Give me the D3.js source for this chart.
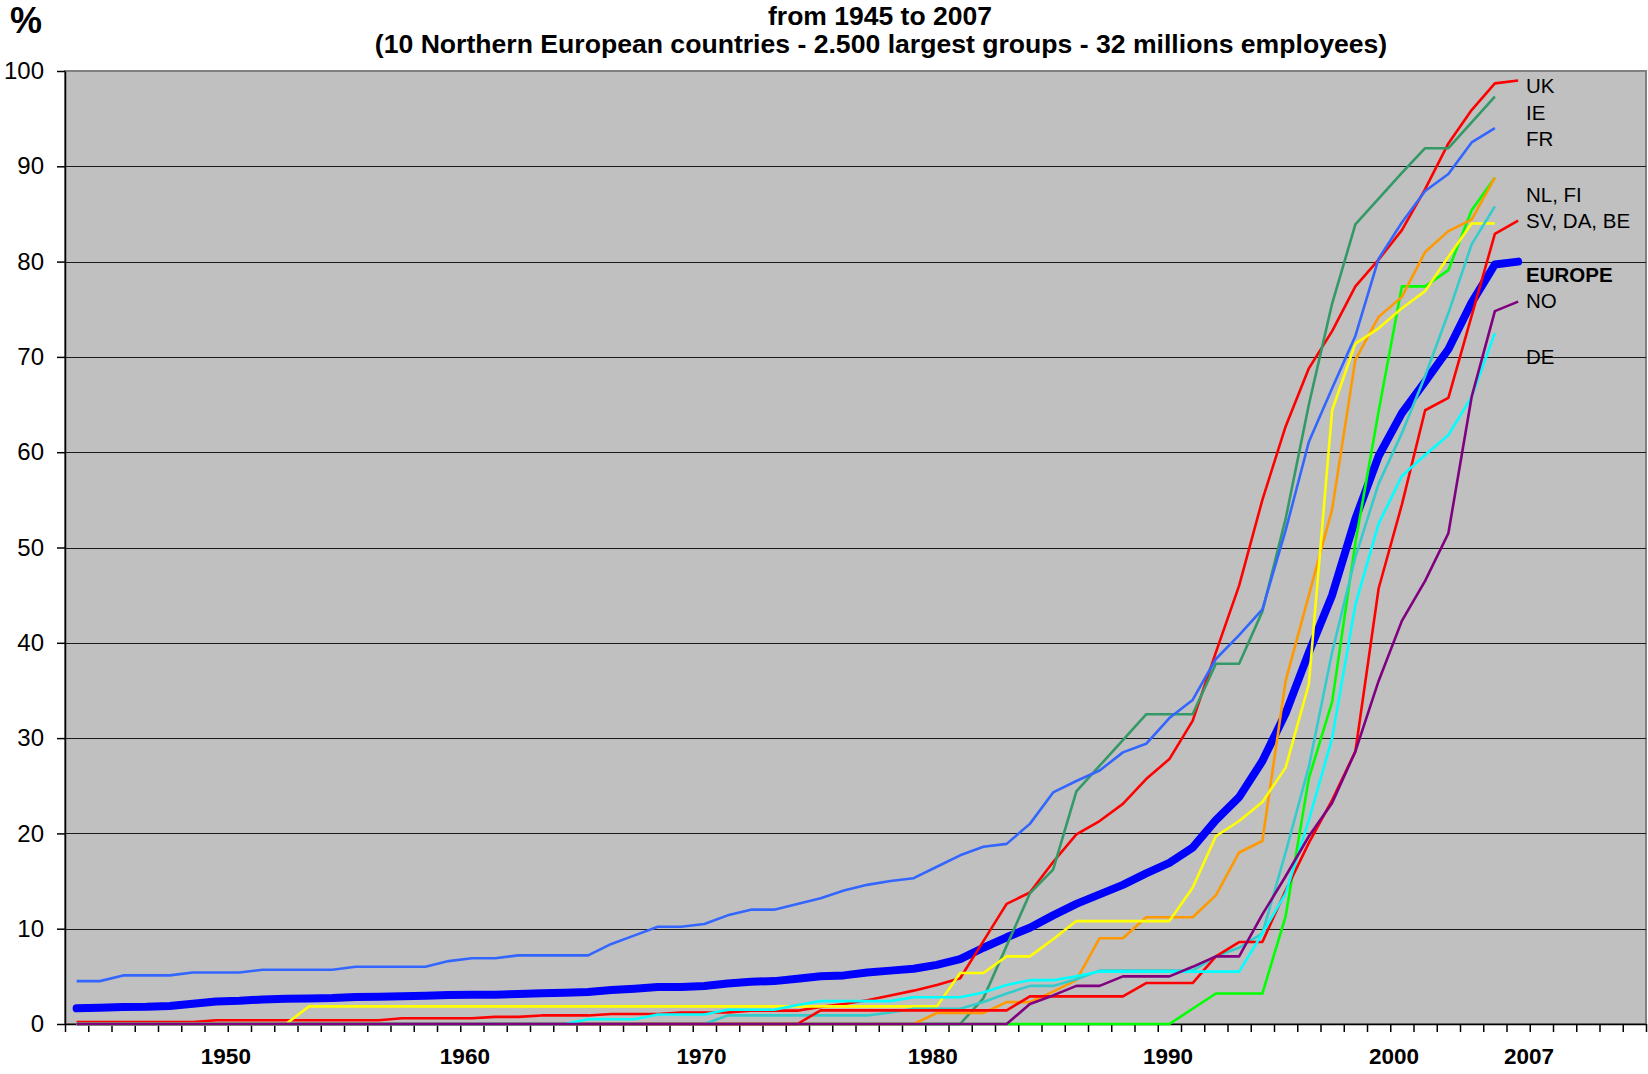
<!DOCTYPE html>
<html>
<head>
<meta charset="utf-8">
<script src="https://cdn.jsdelivr.net/npm/d3@7"></script>
<style>
body { margin: 0; background: #fff; }
svg { display: block; font-family: Arial, "Liberation Sans", sans-serif; }
</style>
</head>
<body>
<div id="chart"></div>
<script>
// one value per year, 1945 -> 2007 (some series stop in 2006)
var years = d3.range(1945, 2008);

var europe = [1.64,1.71,1.78,1.8,1.89,2.13,2.37,2.44,2.58,2.65,2.68,2.72,2.83,2.86,2.9,2.97,3.04,3.08,3.08,3.15,
    3.22,3.29,3.36,3.57,3.71,3.88,3.88,3.99,4.26,4.44,4.5,4.75,5.0,5.1,5.4,5.6,5.8,6.2,6.8,8.0,
    9.1,10.1,11.4,12.6,13.6,14.6,15.8,16.9,18.5,21.4,23.8,27.6,32.6,39,45,53,59.6,64.1,67.4,70.8,
    75.7,79.7,80.0];
var uk = [0.2,0.2,0.2,0.2,0.2,0.2,0.4,0.4,0.4,0.4,0.4,0.4,0.4,0.4,0.6,0.6,0.6,0.6,0.75,0.75,
    0.9,0.9,0.9,1.05,1.05,1.05,1.2,1.2,1.2,1.4,1.4,1.4,1.8,2.1,2.5,3.0,3.5,4.1,4.8,8.7,
    12.6,13.8,17.0,19.9,21.3,23.1,25.7,27.8,31.8,39.0,46.0,55.0,62.7,68.8,72.7,77.4,80.2,83.3,87.6,92.4,
    95.9,98.7,99.0];
var ie = [0,0,0,0,0,0,0,0,0,0,0,0,0,0,0,0,0,0,0,0,
    0,0,0,0,0,0,0,0,0,0,0,0,0,0,0,0,0,0,0,2.7,
    8.2,13.7,16.2,24.4,27.1,29.8,32.5,32.5,32.5,37.8,37.8,43.3,53,65,75.6,83.9,86.6,89.3,91.9,91.9,
    94.6,97.3];
var fr = [4.5,4.5,5.1,5.1,5.1,5.4,5.4,5.4,5.7,5.7,5.7,5.7,6.0,6.0,6.0,6.0,6.6,6.9,6.9,7.2,
    7.2,7.2,7.2,8.4,9.3,10.2,10.2,10.5,11.4,12.0,12.0,12.6,13.2,14.0,14.6,15.0,15.3,16.5,17.7,18.6,
    18.9,21.0,24.3,25.5,26.6,28.5,29.4,32.1,34.0,38.3,40.8,43.5,51.8,61.1,66.7,72.2,80.3,84.1,87.4,89.2,
    92.5,94.0];
var nl = [0,0,0,0,0,0,0,0,0,0,0,0,0,0,0,0,0,0,0,0,
    0,0,0,0,0,0,0,0,0,0,0,0,0,0,0,0,0,0,0,0,
    0,0,0,0,0,0,0,0,1.6,3.2,3.2,3.2,11.3,25.8,33.8,50.5,64.3,77.4,77.4,79.1,
    85.4,88.8];
var fi = [0,0,0,0,0,0,0,0,0,0,0,0,0,0,0,0,0,0,0,0,
    0,0,0,0,0,0,0,0,0,0,0,0,0,0,0,0,0,1.15,1.15,1.15,
    2.3,2.3,3.4,4.6,9.0,9.0,11.2,11.2,11.2,13.5,18.0,19.2,36,45,54,69.7,74.2,76.3,81.0,83.2,
    84.4,88.8];
var sv = [0,0,0,0,0,0,0,0,0,0,1.85,1.85,1.85,1.85,1.85,1.85,1.85,1.85,1.85,1.85,
    1.85,1.85,1.85,1.85,1.85,1.85,1.85,1.85,1.85,1.85,1.85,1.85,1.85,1.85,1.85,1.85,1.85,1.85,5.35,5.35,
    7.1,7.1,8.9,10.8,10.8,10.8,10.8,10.8,14.3,19.7,21.3,23.3,26.9,35.7,64.4,71.4,73.0,75.1,76.9,80.5,
    84.0,84.0];
var da = [0,0,0,0,0,0,0,0,0,0,0,0,0,0,0,0,0,0,0,0,
    0,0,0,0,0,0,0,0,0.9,0.9,0.9,0.9,0.9,0.9,0.9,1.2,1.6,1.6,1.6,2.3,
    3.2,4.0,4.0,4.7,5.6,5.6,5.6,5.6,5.6,7.1,8.0,9.5,18,27,39,49,56.7,62.0,68.0,74.6,
    81.8,85.8];
var be = [0,0,0,0,0,0,0,0,0,0,0,0,0,0,0,0,0,0,0,0,
    0,0,0,0,0,0,0,0,0,0,0,0,1.43,1.43,1.43,1.43,1.43,1.43,1.43,1.43,
    1.43,2.9,2.9,2.9,2.9,2.9,4.3,4.3,4.3,7.1,8.6,8.6,14,19,23.5,28.6,45.7,54.5,64.4,65.7,
    74.3,82.9,84.3];
var de = [0,0,0,0,0,0,0,0,0,0,0,0,0,0,0,0,0,0,0,0,
    0,0,0.5,0.5,0.5,1.0,1.0,1.0,1.5,1.5,1.5,2.0,2.4,2.4,2.4,2.4,2.8,2.8,2.8,3.3,
    4.1,4.6,4.6,5.0,5.5,5.5,5.5,5.5,5.5,5.5,5.5,9.5,13.7,21.4,30,44,52.5,57.5,59.7,61.8,
    65.8,72.5];
var no = [0,0,0,0,0,0,0,0,0,0,0,0,0,0,0,0,0,0,0,0,
    0,0,0,0,0,0,0,0,0,0,0,0,0,0,0,0,0,0,0,0,
    0,2.1,3.0,4.0,4.0,5.0,5.0,5.0,6.0,7.1,7.1,11.5,15.5,19.7,23.2,28.6,36,42.3,46.5,51.5,
    65.8,74.8,75.8];

var yTicks = d3.range(0, 101, 10);
var xLabels = ["1950", "1960", "1970", "1980", "1990", "2000", "2007"];
var xLabelAt = [6.92, 17.2, 27.38, 37.32, 47.44, 57.16, 62.97];   // in category units
var nCategories = 68;

var tagNames = ["UK", "IE", "FR", "NL, FI", "SV, DA, BE", "EUROPE", "NO", "DE"];
var tagAt = [97.7, 94.9, 92.1, 86.3, 83.5, 77.9, 75.1, 69.3];

var series = [
    {name: "EUROPE", values: europe, color: "#0000FF", width: 8},
    {name: "UK", values: uk, color: "#FF0000", width: 2.6},
    {name: "IE", values: ie, color: "#339966", width: 2.6},
    {name: "FR", values: fr, color: "#3366FF", width: 2.6},
    {name: "NL", values: nl, color: "#00FF00", width: 2.6},
    {name: "FI", values: fi, color: "#FF9900", width: 2.6},
    {name: "SV", values: sv, color: "#FFFF00", width: 2.6},
    {name: "DA", values: da, color: "#33CCCC", width: 2.6},
    {name: "BE", values: be, color: "#FF0000", width: 2.6},
    {name: "DE", values: de, color: "#00FFFF", width: 2.6},
    {name: "NO", values: no, color: "#800080", width: 2.6}
];

var width = 1648, height = 1074;
var svg = d3.select("#chart").append("svg")
    .attr("width", width)
    .attr("height", height);

var x = d3.scaleLinear().domain([0, nCategories]).range([65, 1646]);
var y = d3.scaleLinear().domain([0, 100]).range([1024, 71]);

// plot area
svg.append("rect")
    .attr("x", x(0))
    .attr("y", y(100))
    .attr("width", x(nCategories) - x(0))
    .attr("height", y(0) - y(100))
    .attr("fill", "#C0C0C0")
    .attr("stroke", "#808080")
    .attr("stroke-width", 2);

svg.append("g")
    .selectAll("line")
    .data(yTicks.filter(function (d) { return d > 0 && d < 100; }))
    .enter().append("line")
    .attr("x1", x(0))
    .attr("x2", x(nCategories))
    .attr("y1", function (d) { return Math.round(y(d)) + 0.5; })
    .attr("y2", function (d) { return Math.round(y(d)) + 0.5; })
    .attr("stroke", "#1a1a1a")
    .attr("stroke-width", 1);

// axes
var yAxis = svg.append("g")
    .attr("transform", "translate(" + x(0) + ",0)")
    .call(d3.axisLeft(y).tickValues(yTicks).tickSize(8).tickSizeOuter(0).tickPadding(13));
yAxis.selectAll("text")
    .attr("font-size", 24)
    .attr("font-family", "Arial, 'Liberation Sans', sans-serif")
    .attr("fill", "#000");
yAxis.selectAll("line, path").attr("stroke", "#000").attr("stroke-width", 1.5);

var xAxis = svg.append("g")
    .attr("transform", "translate(0," + y(0) + ")")
    .call(d3.axisBottom(x).tickValues(d3.range(0, nCategories + 1)).tickSize(8).tickSizeOuter(0).tickFormat(""));
xAxis.selectAll("line, path").attr("stroke", "#000").attr("stroke-width", 1.5);

svg.append("g")
    .selectAll("text")
    .data(xLabels)
    .enter().append("text")
    .attr("x", function (d, i) { return x(xLabelAt[i]); })
    .attr("y", 1064)
    .attr("text-anchor", "middle")
    .attr("font-size", 22.5)
    .attr("font-weight", "bold")
    .text(function (d) { return d; });

// lines
var line = d3.line()
    .x(function (d, i) { return x(i + 0.5); })
    .y(function (d) { return y(d); });

svg.append("g")
    .selectAll("path")
    .data(series)
    .enter().append("path")
    .attr("d", function (d) { return line(d.values); })
    .attr("fill", "none")
    .attr("stroke", function (d) { return d.color; })
    .attr("stroke-width", function (d) { return d.width; })
    .attr("stroke-linejoin", "round")
    .attr("stroke-linecap", function (d) { return d.name == "EUROPE" ? "round" : "butt"; });

// labels at the end of the lines
svg.append("g")
    .selectAll("text")
    .data(tagNames)
    .enter().append("text")
    .attr("x", 1526)
    .attr("y", function (d, i) { return y(tagAt[i]); })
    .attr("font-size", 20.5)
    .attr("font-weight", function (d) { return d == "EUROPE" ? "bold" : "normal"; })
    .text(function (d) { return d; });

// titles
svg.append("text")
    .attr("x", 880)
    .attr("y", 24.5)
    .attr("text-anchor", "middle")
    .attr("font-size", 26.5)
    .attr("font-weight", "bold")
    .text("from 1945 to 2007");
svg.append("text")
    .attr("x", 881)
    .attr("y", 53)
    .attr("text-anchor", "middle")
    .attr("font-size", 26.6)
    .attr("font-weight", "bold")
    .text("(10 Northern European countries - 2.500 largest groups - 32 millions employees)");
svg.append("text")
    .attr("x", 10)
    .attr("y", 33)
    .attr("font-size", 36)
    .attr("font-weight", "bold")
    .text("%");
</script>
</body>
</html>
